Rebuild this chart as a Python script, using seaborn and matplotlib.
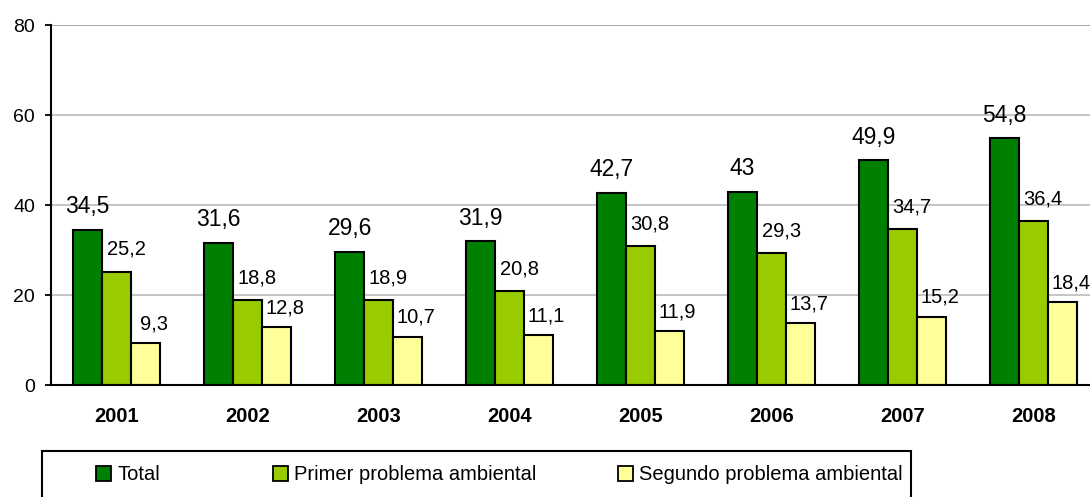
import matplotlib
matplotlib.use("Agg")
import matplotlib.pyplot as plt
import seaborn as sns
import pandas as pd
from matplotlib.patches import Patch, Rectangle

years = ["2001", "2002", "2003", "2004", "2005", "2006", "2007", "2008"]
total = [34.5, 31.6, 29.6, 31.9, 42.7, 43.0, 49.9, 54.8]
primer = [25.2, 18.8, 18.9, 20.8, 30.8, 29.3, 34.7, 36.4]
segundo = [9.3, 12.8, 10.7, 11.1, 11.9, 13.7, 15.2, 18.4]
series = ["Total", "Primer problema ambiental", "Segundo problema ambiental"]
colors = ["#008000", "#99CC00", "#FFFF99"]
yticks = [0, 20, 40, 60, 80]

df = pd.DataFrame({
    "year": years * 3,
    "value": total + primer + segundo,
    "serie": [series[0]] * 8 + [series[1]] * 8 + [series[2]] * 8,
})

sns.set_style("white")
plt.rcParams["font.family"] = ["Liberation Sans", "DejaVu Sans"]
plt.rcParams["text.color"] = "black"
plt.rcParams["xtick.color"] = "black"
plt.rcParams["ytick.color"] = "black"

W, H = 1090, 497
fig = plt.figure(figsize=(W / 100, H / 100), dpi=100)
ax_left, ax_right = 51, 1099
ax_top, ax_bottom = 25, 385
ax = fig.add_axes([ax_left / W, 1 - ax_bottom / H, (ax_right - ax_left) / W, (ax_bottom - ax_top) / H])

sns.barplot(data=df, x="year", y="value", hue="serie", hue_order=series,
            palette=colors, width=0.66, edgecolor="black", linewidth=1.5,
            saturation=1, ax=ax, legend=False, zorder=3)

ax.set_xlim(-0.5, 7.5)
ax.set_ylim(0, 80)
ax.set_yticks(yticks)
ax.set_yticklabels([str(t) for t in yticks], fontsize=14, color="black")
ax.set_xlabel("")
ax.set_ylabel("")
ax.set_xticks(range(len(years)))
ax.set_xticklabels(years, fontsize=14.5, fontweight="bold", color="black")
ax.set_xticks([i - 0.5 for i in range(len(years) + 1)], minor=True)
ax.tick_params(axis="x", which="major", length=0, pad=16)
ax.tick_params(axis="x", which="minor", length=4.5, width=1.3, direction="out", color="black")
ax.tick_params(axis="y", which="major", length=4.5, width=1.3, direction="out", pad=7,
               left=True, color="black")

for s in ["top", "right"]:
    ax.spines[s].set_visible(False)
for s in ["left", "bottom"]:
    ax.spines[s].set_visible(True)
    ax.spines[s].set_color("black")
    ax.spines[s].set_linewidth(1.5)
    ax.spines[s].set_zorder(5)

for t in yticks[1:]:
    ax.axhline(t, color="#a0a0a0" if t == 80 else "#c0c0c0", lw=1.3, zorder=1)

# data labels
offsets = [(0, 12), (7, 12), (6, 10)]
sizes = [16.5, 14.5, 14.5]
for ci, cont in enumerate(ax.containers):
    for bar in cont:
        v = bar.get_height()
        txt = f"{v:g}".replace(".", ",")
        ax.annotate(txt, (bar.get_x() + bar.get_width() / 2, v),
                    xytext=offsets[ci], textcoords="offset points",
                    ha="center", va="baseline", fontsize=sizes[ci], color="black",
                    zorder=6, annotation_clip=False)

# legend
box = Rectangle((42 / W, -0.05), (911 - 42) / W, 0.05 + 1 - 451 / H,
                transform=fig.transFigure, fill=False, edgecolor="black", lw=1.5)
fig.add_artist(box)
xs = [96, 273, 618]
for name, col, x in zip(series, colors, xs):
    h = Patch(facecolor=col, edgecolor="black", linewidth=1.3)
    leg = fig.legend([h], [name], loc="center left", bbox_to_anchor=(x / W, 1 - 475 / H),
                     frameon=False, fontsize=14.5, handlelength=0.75, handleheight=0.75,
                     handletextpad=0.3, borderpad=0, borderaxespad=0)
    for t in leg.get_texts():
        t.set_color("black")

fig.savefig("out.png", dpi=100)
